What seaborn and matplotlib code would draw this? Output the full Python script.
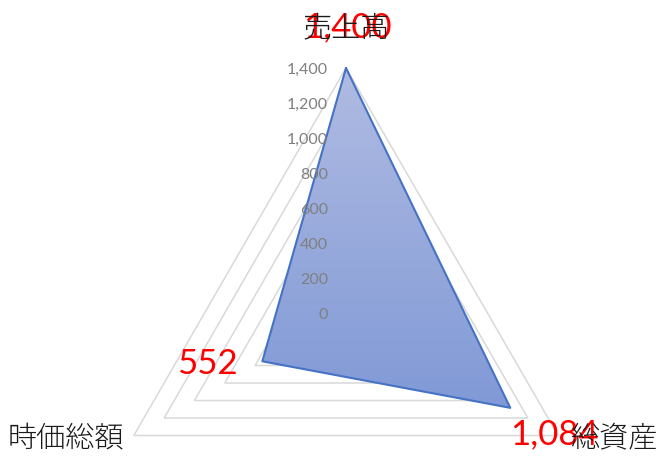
import numpy as np
import matplotlib
matplotlib.use("Agg")
import matplotlib.pyplot as plt
import seaborn as sns
from matplotlib.image import AxesImage
from matplotlib.colors import LinearSegmentedColormap

# ---- data ----
categories = ["売上高", "総資産", "時価総額"]
values = [1400, 1084, 552]
r_ticks = [0, 200, 400, 600, 800, 1000, 1200, 1400]
r_max = 1400

# ---- layout (pixel offsets for labels) ----
value_label_offsets = [(1, 41), (44, -26), (-25, -3)]
value_label_ha = ["center", "center", "right"]
cat_label_offsets = [(0, 40), (12, -3), (-10, -3)]
cat_label_ha = ["center", "left", "right"]

sns.set_theme(style="white")
plt.rcParams['font.family'] = ['Lato', 'Noto Sans CJK JP', 'DejaVu Sans']

fig = plt.figure(figsize=(6.67, 4.65), dpi=100)
ax = fig.add_axes([101/667, -93/465, 490/667, 490/465], projection='polar')
ax.set_theta_offset(np.pi / 2)
ax.set_theta_direction(-1)
ax.set_ylim(0, r_max)
ax.set_axis_off()

n = len(categories)
theta = np.linspace(0, 2 * np.pi, n, endpoint=False)
theta_c = np.append(theta, theta[0])
vals_c = values + values[:1]

# triangular grid
for lv in r_ticks[1:]:
    ax.plot(theta_c, [lv] * (n + 1), color='#d9d9d9', lw=1.1, clip_on=False,
            zorder=1, solid_joinstyle='miter')

# filled series with gradient
poly = ax.fill(theta_c, vals_c, color='#94a8dc', lw=0, zorder=2)[0]
cmap = LinearSegmentedColormap.from_list('g', ['#8099d6', '#b0bbe2'])
grad = np.linspace(0, 1, 256).reshape(-1, 1)
im = AxesImage(ax, cmap=cmap, origin='lower', extent=(0, 1, 0.3, 1),
               transform=ax.transAxes, interpolation='bilinear')
im.set_data(grad)
im.set_zorder(2.5)
ax.add_image(im)
im.set_clip_path(poly)

sns.lineplot(x=theta_c, y=vals_c, sort=False, estimator=None, ax=ax,
             color='#4472c4', lw=1.5, zorder=3, clip_on=False)
ax.set_axis_off()

# radial tick labels
for v in r_ticks:
    ax.annotate(f"{v:,}", xy=(0, v), xytext=(-18, -2), textcoords='offset pixels',
                ha='right', va='center', fontsize=11.5, color='#7f7f7f',
                zorder=5, annotation_clip=False)

# value labels
for t, v, off, ha in zip(theta, values, value_label_offsets, value_label_ha):
    ax.annotate(f"{v:,}", xy=(t, v), xytext=off, textcoords='offset pixels',
                ha=ha, va='center', fontsize=25, color='#ff0000',
                zorder=6, annotation_clip=False)

# category labels
for t, c, off, ha in zip(theta, categories, cat_label_offsets, cat_label_ha):
    ax.annotate(c, xy=(t, r_max), xytext=off, textcoords='offset pixels',
                ha=ha, va='center', fontsize=21, color='#1a1a1a',
                family=['Noto Sans CJK JP'], fontweight='light',
                zorder=7, annotation_clip=False)

fig.savefig('out.png', dpi=100)
